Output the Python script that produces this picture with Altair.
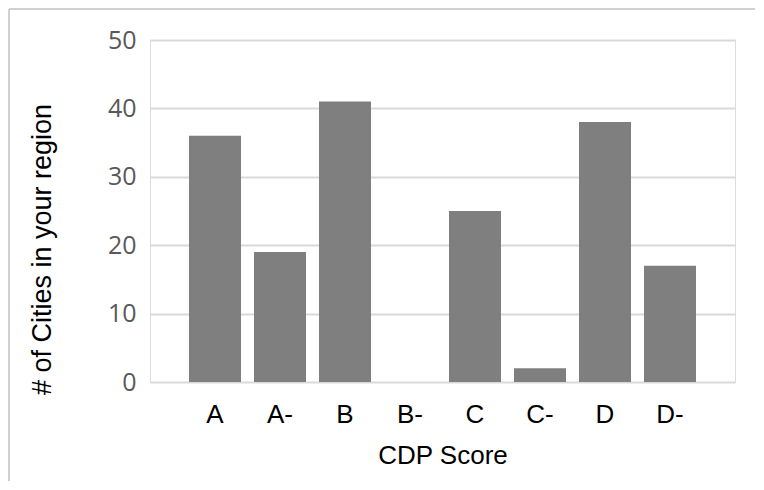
import altair as alt
import pandas as pd

scores = ["A", "A-", "B", "B-", "C", "C-", "D", "D-"]
cities = [36, 19, 41, 0, 25, 2, 38, 17]

df = pd.DataFrame({"score": scores, "cities": cities})

bars = alt.Chart(df).mark_bar(color="#7f7f7f").encode(
    x=alt.X("score:N", sort=scores,
            scale=alt.Scale(paddingInner=0.2, paddingOuter=0.6),
            axis=alt.Axis(title="CDP Score", labelAngle=0, labelFont="Arial",
                          labelFontSize=26, labelColor="#000000", labelPadding=19,
                          domain=False, ticks=False, grid=False, titleFont="Arial",
                          titleFontSize=26, titleFontWeight="normal",
                          titleColor="#000000", titleY=73, titleBaseline="middle")),
    y=alt.Y("cities:Q", scale=alt.Scale(domain=[0, 50]),
            axis=alt.Axis(title="# of Cities in your region", values=[0, 10, 20, 30, 40, 50],
                          labelFont="Open Sans", labelFontSize=25, labelColor="#595959",
                          labelPadding=14, domain=False, ticks=False,
                          gridColor="#d9d9d9", gridWidth=2,
                          titleFont="Arial", titleFontSize=27, titleFontWeight="normal",
                          titleColor="#000000", titleX=-108, titleY=209,
                          titleBaseline="middle", titleAlign="center", titleAngle=270)),
)

left_border = alt.Chart(df).mark_rule(color="#d0d0d0", strokeWidth=2).encode(
    x=alt.value(-141), y=alt.value(-31), y2=alt.value(441)
)
top_border = alt.Chart(df).mark_rule(color="#d0d0d0", strokeWidth=2).encode(
    y=alt.value(-31), x=alt.value(-141), x2=alt.value(605)
)

chart = alt.layer(left_border, top_border, bars).properties(
    width=585, height=342,
    autosize=alt.AutoSizeParams(type="none"),
    padding={"left": 142, "top": 32, "right": 21, "bottom": 100},
).configure_view(strokeWidth=0, stroke="transparent").configure(background="white")

chart.save("out.html", embed_options={"renderer": "svg", "actions": False})
